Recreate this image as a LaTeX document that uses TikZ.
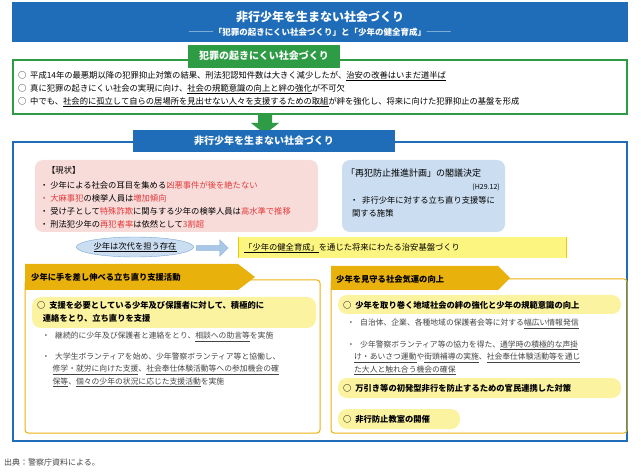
\documentclass[tikz,border=0pt]{standalone}
\usepackage{fontspec}
\setmainfont{Noto Sans CJK JP}
\usetikzlibrary{positioning,shapes.geometric,shapes.arrows}

\definecolor{dblue}{HTML}{1F6DB8}
\definecolor{dgreen}{HTML}{2E9B45}
\definecolor{gold}{HTML}{E9B10C}
\definecolor{pinkbg}{HTML}{F8DCDA}
\definecolor{bluebg}{HTML}{CADDF1}
\definecolor{ylw}{HTML}{FBF3A0}
\definecolor{rd}{HTML}{E23A3A}
\definecolor{gtxt}{HTML}{444444}
\newcommand{\rt}[1]{\textcolor{rd}{#1}}
\newcommand{\ul}[1]{\underline{#1}}

\begin{document}
\begin{tikzpicture}[x=1pt,y=-1pt,
  txt/.style={anchor=west,inner sep=0pt,font=\fontsize{8.3}{13}\selectfont,align=left},
  small/.style={txt,font=\fontsize{7.8}{12.6}\selectfont,text=gtxt},
  head/.style={inner sep=0pt,text=white,font=\bfseries\fontsize{10}{12}\selectfont},
  bold/.style={txt,font=\bfseries\fontsize{8.3}{13}\selectfont}]
\useasboundingbox (0,0) rectangle (641,476);

% top banner
\fill[dblue] (12,2) rectangle (628,42);
\node[head,font=\bfseries\fontsize{12}{14}\selectfont] (title) at (320,17) {非行少年を生まない社会づくり};
\node[head,font=\bfseries\fontsize{8.5}{10}\selectfont] (subtitle) at (320,32) {―――「犯罪の起きにくい社会づくり」と「少年の健全育成」―――};

% crime prevention box
\draw[dgreen,line width=1.2pt] (13,60) rectangle (627,114);
\fill[dgreen] (188,45) rectangle (340,68);
\node[head] (greentab) at (264,56) {犯罪の起きにくい社会づくり};
\node[txt] (g1) at (18,76) {○\ \ 平成14年の最悪期以降の犯罪抑止対策の結果、刑法犯認知件数は大きく減少したが、\ul{治安の改善はいまだ道半ば}};
\node[txt] (g2) at (18,89) {○\ \ 真に犯罪の起きにくい社会の実現に向け、\ul{社会の規範意識の向上と絆の強化}が不可欠};
\node[txt] (g3) at (18,102) {○\ \ 中でも、\ul{社会的に孤立して自らの居場所を見出せない人々を支援するための取組}が絆を強化し、将来に向けた犯罪抑止の基盤を形成};
\fill[dgreen] (258,115) -- (272,115) -- (272,123) -- (279,123) -- (265,134) -- (251,123) -- (258,123) -- cycle;

% main box
\draw[dblue,line width=1.2pt] (13,142) rectangle (627,441);
\fill[dblue] (133,130) rectangle (395,152);
\node[head] (bluetab) at (264,141) {非行少年を生まない社会づくり};

% current state
\fill[pinkbg,rounded corners=8pt] (35,160) rectangle (318,232);
\node[txt] (state) at (47,170) {【現状】};
\node[txt] (s1) at (40,185) {・\ 少年による社会の耳目を集める\rt{凶悪事件が後を絶たない}};
\node[txt] (s2) at (40,198) {\rt{・\ 大麻事犯}の検挙人員は\rt{増加傾向}};
\node[txt] (s3) at (40,211) {・\ 受け子として\rt{特殊詐欺}に関与する少年の検挙人員は\rt{高水準で推移}};
\node[txt] (s4) at (40,224) {・\ 刑法犯少年の\rt{再犯者率}は依然として\rt{3割超}};

% plan
\fill[bluebg,rounded corners=8pt] (342,160) rectangle (505,232);
\node[txt,font=\fontsize{9}{12}\selectfont] (plan) at (346,173) {「再犯防止推進計画」の閣議決定};
\node[txt,anchor=east,font=\fontsize{7}{9}\selectfont] (date) at (500,187) {(H29.12)};
\node[txt] (p1) at (350,207) {・\ \ 非行少年に対する立ち直り支援等に\\\ 関する施策};

% next generation
\node[ellipse,fill=bluebg,draw=dblue!60,minimum width=106pt,minimum height=20pt,inner sep=0pt,font=\fontsize{8.3}{10}\selectfont] (gen) at (135,247) {\ul{少年は次代を担う存在}};
\node[single arrow,fill=bluebg!80!dblue,draw=dblue!50,minimum height=32pt,minimum width=17pt,single arrow head extend=3pt,inner sep=1pt,anchor=west] (genarrow) at (196,248) {};
\fill[ylw!80!yellow] (238,237) rectangle (566,258);
\draw[gold!70!yellow] (238,237) -- (238,258) (566,237) -- (566,258);
\node[txt] (goal) at (244,248) {\ul{「少年の健全育成」}を通じた将来にわたる治安基盤づくり};

% left section
\draw[gold,line width=1pt,rounded corners=3pt] (25,280) rectangle (320,433);
\fill[gold] (25,264) -- (238,264) -- (255,277) -- (238,290) -- (25,290) -- cycle;
\node[bold] (lefttab) at (31,277) {少年に手を差し伸べる立ち直り支援活動};
\fill[ylw,rounded corners=9pt] (32,297) rectangle (316,328);
\node[bold] (l0) at (37,312) {○\ \ 支援を必要としている少年及び保護者に対して、積極的に\\\ \ \ 連絡をとり、立ち直りを支援};
\node[small] (l1) at (42,337) {・\ \ \ 継続的に少年及び保護者と連絡をとり、\ul{相談への助言等}を実施};
\node[small] (l2) at (42,370) {・\ \ \ 大学生ボランティアを始め、少年警察ボランティア等と協働し、\\\ \ \ \ \ \ \ul{修学・就労に向けた支援}、\ul{社会奉仕体験活動等への参加機会の確}\\\ \ \ \ \ \ \ul{保等}、\ul{個々の少年の状況に応じた支援活動}を実施};

% right section
\draw[gold,line width=1pt,rounded corners=3pt] (331,279) rectangle (627,433);
\fill[gold] (331,266) -- (498,266) -- (510,278) -- (498,290) -- (331,290) -- cycle;
\node[bold] (righttab) at (336,279) {少年を見守る社会気運の向上};
\fill[ylw,rounded corners=9pt] (338,295) rectangle (621,314);
\node[bold] (r0) at (343,305) {○\ \ 少年を取り巻く地域社会の絆の強化と少年の規範意識の向上};
\node[small] (r1) at (347,324) {・\ \ \ 自治体、企業、各種地域の保護者会等に対する\ul{幅広い情報発信}};
\node[small] (r2) at (347,358) {・\ \ \ 少年警察ボランティア等の協力を得た、\ul{通学時の積極的な声掛}\\\ \ \ \ \ul{け・あいさつ運動}や\ul{街頭補導の実施}、\ul{社会奉仕体験活動等を通じ}\\\ \ \ \ \ul{た大人と触れ合う機会の確保}};
\fill[ylw,rounded corners=9pt] (338,378) rectangle (621,398);
\node[bold] (r3) at (343,388) {○\ \ 万引き等の初発型非行を防止するための官民連携した対策};
\fill[ylw,rounded corners=9pt] (338,409) rectangle (460,429);
\node[bold] (r4) at (343,419) {○\ \ 非行防止教室の開催};

\node[txt,font=\fontsize{8}{10}\selectfont,text=gtxt] (source) at (4,462) {出典：警察庁資料による。};
\end{tikzpicture}
\end{document}
